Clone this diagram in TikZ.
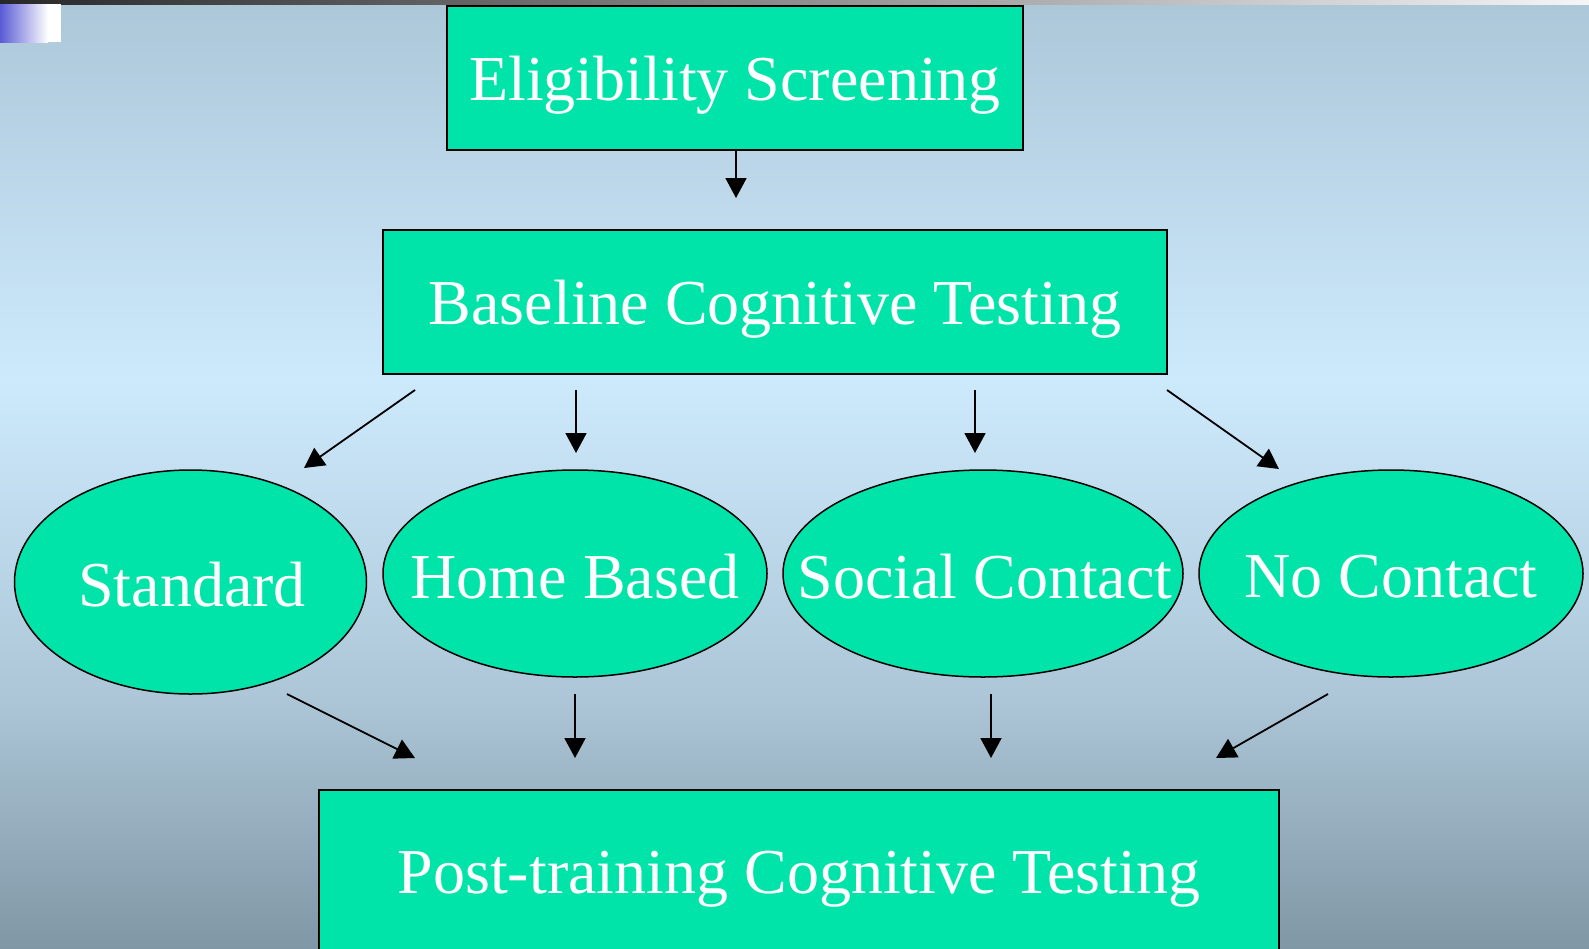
\documentclass[tikz,border=0pt]{standalone}
\usepackage{fontspec}
\setmainfont{Liberation Serif}
\usetikzlibrary{arrows.meta,shapes.geometric}
\definecolor{boxfill}{RGB}{0,228,170}
\definecolor{bgA}{RGB}{128,151,165}
\definecolor{bgB}{RGB}{172,198,215}
\definecolor{bgC}{RGB}{205,234,252}
\definecolor{bgD}{RGB}{172,199,216}
\definecolor{barL}{RGB}{40,40,40}
\definecolor{barR}{RGB}{245,245,245}
\definecolor{tagL}{RGB}{90,90,214}
\pgfdeclareverticalshading{bgshade}{100bp}{color(0bp)=(bgA); color(25bp)=(bgA); color(38.08bp)=(bgB); color(54.96bp)=(bgC); color(74.79bp)=(bgD); color(100bp)=(bgD)}
\begin{document}
\begin{tikzpicture}[x=1pt,y=-1pt,
  box/.style={rectangle, draw=black, line width=1.5pt, fill=boxfill, text=white,
    font=\fontsize{64}{77}\selectfont, inner sep=0pt, text depth=0pt},
  ell/.style={ellipse, draw=black, line width=1.5pt, fill=boxfill, inner sep=0pt},
  lbl/.style={text=white, font=\fontsize{64}{77}\selectfont, inner sep=0pt, text depth=0pt},
  arr/.style={line width=1.8pt, -{Triangle[length=20pt,width=21pt]}}]
\useasboundingbox (0,0) rectangle (1589,948);
\clip (0,0) rectangle (1589,948);
\shade[shading=bgshade] (0,0) rectangle (1589,948);
\shade[left color=barL, right color=barR] (0,0) rectangle (1589,4);
\shade[left color=tagL, right color=white] (0,4) rectangle (48,42);
\fill[white] (48,4) rectangle (61,42);

\node[box, minimum width=576pt, minimum height=144pt] (elig) at (735,78) {Eligibility Screening};
\node[box, minimum width=784pt, minimum height=144pt] (base) at (775,302) {Baseline Cognitive Testing};
\node[box, minimum width=960pt, minimum height=164pt] (post) at (799,872) {Post-training Cognitive Testing};

\node[ell, minimum width=352pt, minimum height=224pt] (std) at (190.5,582) {};
\node[ell, minimum width=384pt, minimum height=207pt] (home) at (575,573.5) {};
\node[ell, minimum width=400pt, minimum height=207pt] (soc) at (983,573.5) {};
\node[ell, minimum width=384pt, minimum height=207pt] (noc) at (1391,573.5) {};
\node[lbl] (stdt) at (192,584) {Standard};
\node[lbl] (homet) at (575,576) {Home Based};
\node[lbl] (soct) at (985,576) {Social Contact};
\node[lbl] (noct) at (1391,576) {No Contact};

\coordinate (e0) at (736,150);
\coordinate (e1) at (736,198);
\coordinate (b1s) at (415,390);
\coordinate (b1e) at (304,468);
\coordinate (b2s) at (576,390);
\coordinate (b2e) at (576,453);
\coordinate (b3s) at (975,390);
\coordinate (b3e) at (975,453);
\coordinate (b4s) at (1167,390);
\coordinate (b4e) at (1279,469);
\coordinate (p1s) at (287,694);
\coordinate (p1e) at (415,758);
\coordinate (p2s) at (575,694);
\coordinate (p2e) at (575,758);
\coordinate (p3s) at (991,694);
\coordinate (p3e) at (991,758);
\coordinate (p4s) at (1328,694);
\coordinate (p4e) at (1216,758);

\draw[arr] (e0) -- (e1);
\draw[arr] (b1s) -- (b1e);
\draw[arr] (b2s) -- (b2e);
\draw[arr] (b3s) -- (b3e);
\draw[arr] (b4s) -- (b4e);
\draw[arr] (p1s) -- (p1e);
\draw[arr] (p2s) -- (p2e);
\draw[arr] (p3s) -- (p3e);
\draw[arr] (p4s) -- (p4e);
\end{tikzpicture}
\end{document}
